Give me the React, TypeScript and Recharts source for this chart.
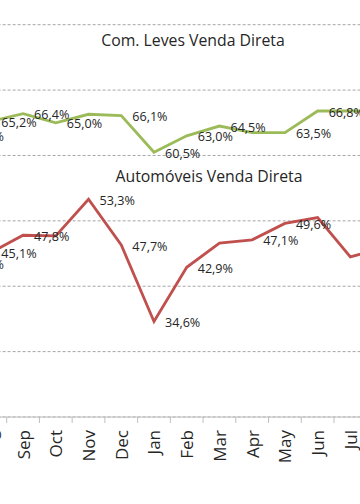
import React from "react";
import { LineChart, Line, XAxis, YAxis, CartesianGrid, LabelList } from "recharts";

const months = ["Jul", "Aug", "Sep", "Oct", "Nov", "Dec", "Jan", "Feb", "Mar", "Apr", "May", "Jun", "Jul", "Aug"];
const comLeves = [63.1, 65.2, 66.4, 65.0, 66.3, 66.1, 60.5, 63.0, 64.5, 63.5, 63.5, 66.8, 66.8, 66.8];
const automoveis = [43.5, 45.1, 47.8, 47.7, 53.3, 46.3, 34.6, 42.9, 46.6, 47.1, 49.6, 50.5, 44.5, 45.8];
const comLevesLabels = ["63,1%", "65,2%", "66,4%", "65,0%", "", "66,1%", "60,5%", "63,0%", "64,5%", "", "63,5%", "66,8%", "", ""];
const automoveisLabels = ["43,5%", "45,1%", "47,8%", "", "53,3%", "47,7%", "34,6%", "42,9%", "", "47,1%", "49,6%", "", "", ""];
const yTicks = [20, 30, 40, 50, 60, 70, 80];

const data = months.map((m, i) => ({
  idx: i,
  month: m,
  leves: comLeves[i],
  auto: automoveis[i],
}));

const FONT = "'Open Sans', sans-serif";
const HALF_BAND = 16.37;

const MonthTick = (props: any) => {
  const { x, y, payload } = props;
  return (
    <g>
      <line x1={x - HALF_BAND} y1={y} x2={x - HALF_BAND} y2={y + 6} stroke="#BFBFBF" strokeWidth={1} />
      <text
        x={x}
        y={y + 13}
        transform={`rotate(-90, ${x}, ${y + 13})`}
        textAnchor="end"
        dominantBaseline="central"
        fontFamily={FONT}
        fontSize={17}
        fill="#262626"
      >
        {months[payload.index] ?? payload.value}
      </text>
    </g>
  );
};

const makeLabel = (labels: string[]) => (props: any) => {
  const { x, y, index } = props;
  const t = labels[index];
  if (!t) return null;
  return (
    <text
      x={x + 11}
      y={y + 1}
      textAnchor="start"
      dominantBaseline="central"
      fontFamily={FONT}
      fontSize={12.6}
      fill="#262626"
    >
      {t}
    </text>
  );
};

export default function App() {
  return (
    <div
      style={{
        position: "absolute",
        left: 0,
        top: 0,
        width: 360,
        height: 504,
        overflow: "hidden",
        background: "#fff",
      }}
    >
      <div style={{ position: "absolute", left: -70, top: 0 }}>
        <LineChart
          width={500}
          height={504}
          data={data}
          margin={{ top: 24.7, right: 46.9, bottom: 7, left: 27.6 }}
        >
          <CartesianGrid vertical={false} stroke="#A6A6A6" strokeDasharray="3 2" />
          <YAxis hide domain={[20, 80]} ticks={yTicks} type="number" />
          <XAxis
            dataKey="idx"
            type="category"
            height={80}
            tickSize={0}
            tickMargin={0}
            interval={0}
            stroke="#BFBFBF"
            tick={<MonthTick />}
          />
          <Line
            dataKey="leves"
            stroke="#9BBB59"
            strokeWidth={2.8}
            dot={false}
            isAnimationActive={false}
          >
            <LabelList dataKey="leves" content={makeLabel(comLevesLabels)} />
          </Line>
          <Line
            dataKey="auto"
            stroke="#C0504D"
            strokeWidth={2.8}
            dot={false}
            isAnimationActive={false}
          >
            <LabelList dataKey="auto" content={makeLabel(automoveisLabels)} />
          </Line>
        </LineChart>
      </div>
      <div
        style={{
          position: "absolute",
          left: 193,
          top: 39.5,
          transform: "translate(-50%, -50%)",
          fontFamily: FONT,
          fontSize: 15.8,
          color: "#262626",
          whiteSpace: "nowrap",
        }}
      >
        Com. Leves Venda Direta
      </div>
      <div
        style={{
          position: "absolute",
          left: 209,
          top: 176,
          transform: "translate(-50%, -50%)",
          fontFamily: FONT,
          fontSize: 15.8,
          color: "#262626",
          whiteSpace: "nowrap",
        }}
      >
        Automóveis Venda Direta
      </div>
    </div>
  );
}
